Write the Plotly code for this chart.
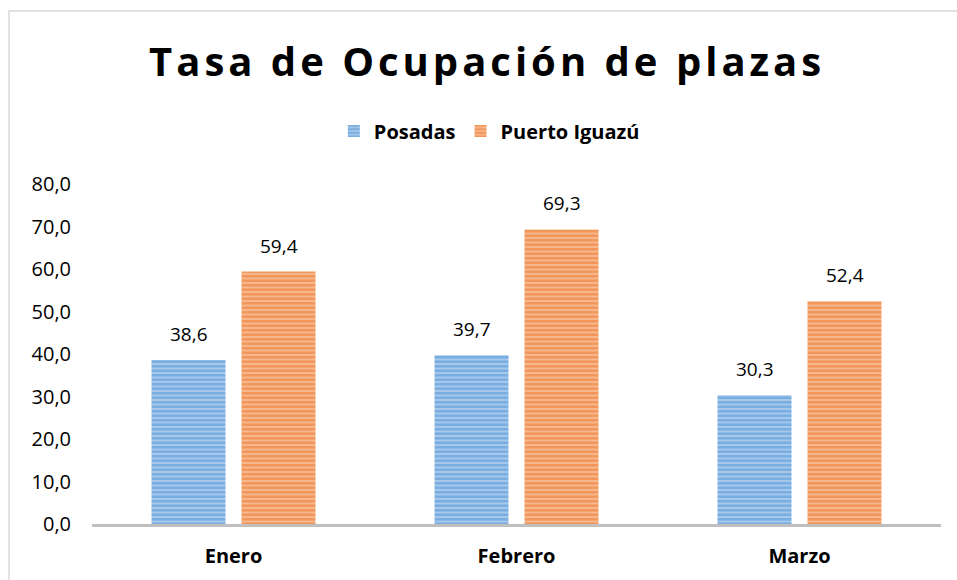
import plotly.graph_objects as go

categories = ["Enero", "Febrero", "Marzo"]
posadas = [38.6, 39.7, 30.3]
iguazu = [59.4, 69.3, 52.4]
series_names = ["Posadas", "Puerto Iguazú"]
y_ticks = [0, 10, 20, 30, 40, 50, 60, 70, 80]

W, H = 957, 580
L, R, T, B = 92, 16, 184, 56

fig = go.Figure()
fig.add_trace(go.Bar(
    name=series_names[0], x=categories, y=posadas,
    marker=dict(color="#a7c9ec", line=dict(width=0),
                pattern=dict(shape="-", fgcolor="#4f93d3", size=4.5, solidity=0.6)),
))
fig.add_trace(go.Bar(
    name=series_names[1], x=categories, y=iguazu,
    marker=dict(color="#f7b990", line=dict(width=0),
                pattern=dict(shape="-", fgcolor="#ec7628", size=4.5, solidity=0.6)),
))

bargap = 0.364
off = (1 - bargap) / 4
lab_font = dict(family="Open Sans", size=19, color="#000")
annotations = []
for i, v in enumerate(posadas):
    annotations.append(dict(x=i - off, y=v, xref="x", yref="y", text=f"{v:.1f}".replace(".", ","),
                            showarrow=False, yanchor="bottom", yshift=11, font=lab_font))
for i, v in enumerate(iguazu):
    annotations.append(dict(x=i + off, y=v, xref="x", yref="y", text=f"{v:.1f}".replace(".", ","),
                            showarrow=False, yanchor="bottom", yshift=11, font=lab_font))

pw = W - L - R
ph = H - T - B
x_left = (9 - L) / pw
y_top = (H - B - 11) / ph

fig.update_layout(
    width=W, height=H,
    margin=dict(l=L, r=R, t=T, b=B, pad=0),
    paper_bgcolor="white", plot_bgcolor="white",
    separators=",.",
    barmode="group", bargap=bargap, bargroupgap=0.178,
    title=dict(text='<span style="letter-spacing:4px">Tasa de Ocupación de plazas</span>',
               x=0.509, xanchor="center", y=1 - 62 / H, yanchor="middle",
               font=dict(family="Open Sans", size=40, color="#000", weight="bold")),
    legend=dict(orientation="h", x=0.468, xanchor="center", y=1 - 131 / H, yref="container",
                yanchor="middle", font=dict(family="Open Sans", size=20, color="#000", weight="bold"),
                itemwidth=30, traceorder="normal"),
    xaxis=dict(showline=True, linecolor="#bfbfbf", linewidth=3, ticks="",
               ticklabelstandoff=12,
               tickfont=dict(family="Open Sans", size=20, color="#000", weight="bold"),
               showgrid=False),
    yaxis=dict(range=[0, 80], tickvals=y_ticks, tickformat=".1f", showgrid=False,
               showline=False, zeroline=False, ticks="", ticklabelstandoff=20,
               tickfont=dict(family="Open Sans", size=20, color="#000")),
    annotations=annotations,
    shapes=[dict(type="rect", xref="paper", yref="paper", x0=x_left, x1=1.2, y0=-0.5, y1=y_top,
                 line=dict(color="#d9d9d9", width=1.5), layer="below")],
)

fig.write_html("out.html", config={"displayModeBar": False},
               post_script="document.body.style.margin='0';")
